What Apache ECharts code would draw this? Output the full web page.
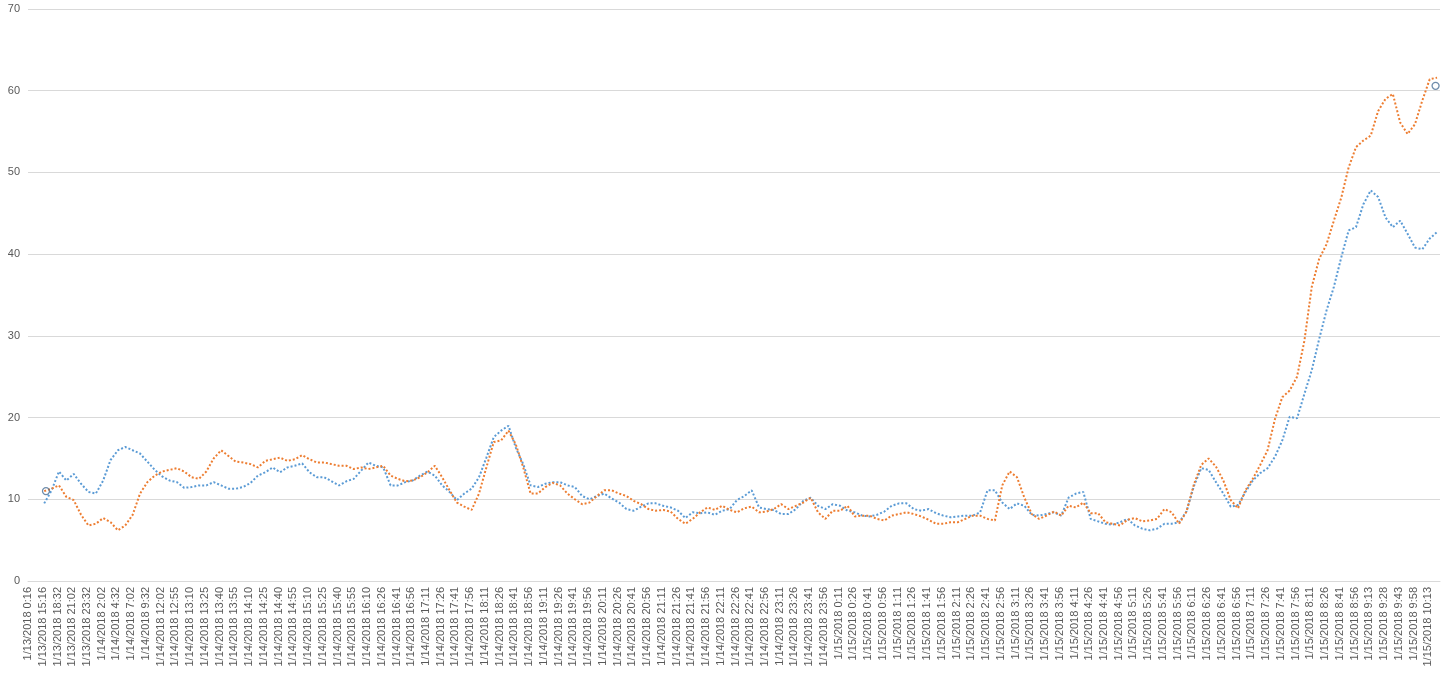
<!DOCTYPE html>
<html>
<head>
<meta charset="utf-8">
<title>Readings 1/13 - 1/15/2018</title>
<script src="https://cdn.jsdelivr.net/npm/echarts@6/dist/echarts.min.js"></script>
<style>
  html, body { margin: 0; padding: 0; background: #fff; }
  #chart { width: 1443px; height: 674px; }
</style>
</head>
<body>
<div id="chart"></div>
<script>
// tick labels, one per label slot on the x axis
const tickLabels = [
  '1/13/2018 0:16', '1/13/2018 15:16', '1/13/2018 18:32', '1/13/2018 21:02', '1/13/2018 23:32',
  '1/14/2018 2:02', '1/14/2018 4:32', '1/14/2018 7:02', '1/14/2018 9:32', '1/14/2018 12:02',
  '1/14/2018 12:55', '1/14/2018 13:10', '1/14/2018 13:25', '1/14/2018 13:40', '1/14/2018 13:55',
  '1/14/2018 14:10', '1/14/2018 14:25', '1/14/2018 14:40', '1/14/2018 14:55', '1/14/2018 15:10',
  '1/14/2018 15:25', '1/14/2018 15:40', '1/14/2018 15:55', '1/14/2018 16:10', '1/14/2018 16:26',
  '1/14/2018 16:41', '1/14/2018 16:56', '1/14/2018 17:11', '1/14/2018 17:26', '1/14/2018 17:41',
  '1/14/2018 17:56', '1/14/2018 18:11', '1/14/2018 18:26', '1/14/2018 18:41', '1/14/2018 18:56',
  '1/14/2018 19:11', '1/14/2018 19:26', '1/14/2018 19:41', '1/14/2018 19:56', '1/14/2018 20:11',
  '1/14/2018 20:26', '1/14/2018 20:41', '1/14/2018 20:56', '1/14/2018 21:11', '1/14/2018 21:26',
  '1/14/2018 21:41', '1/14/2018 21:56', '1/14/2018 22:11', '1/14/2018 22:26', '1/14/2018 22:41',
  '1/14/2018 22:56', '1/14/2018 23:11', '1/14/2018 23:26', '1/14/2018 23:41', '1/14/2018 23:56',
  '1/15/2018 0:11', '1/15/2018 0:26', '1/15/2018 0:41', '1/15/2018 0:56', '1/15/2018 1:11',
  '1/15/2018 1:26', '1/15/2018 1:41', '1/15/2018 1:56', '1/15/2018 2:11', '1/15/2018 2:26',
  '1/15/2018 2:41', '1/15/2018 2:56', '1/15/2018 3:11', '1/15/2018 3:26', '1/15/2018 3:41',
  '1/15/2018 3:56', '1/15/2018 4:11', '1/15/2018 4:26', '1/15/2018 4:41', '1/15/2018 4:56',
  '1/15/2018 5:11', '1/15/2018 5:26', '1/15/2018 5:41', '1/15/2018 5:56', '1/15/2018 6:11',
  '1/15/2018 6:26', '1/15/2018 6:41', '1/15/2018 6:56', '1/15/2018 7:11', '1/15/2018 7:26',
  '1/15/2018 7:41', '1/15/2018 7:56', '1/15/2018 8:11', '1/15/2018 8:26', '1/15/2018 8:41',
  '1/15/2018 8:56', '1/15/2018 9:13', '1/15/2018 9:28', '1/15/2018 9:43', '1/15/2018 9:58',
  '1/15/2018 10:13'
];

// readings sit every half label slot, starting just after the first label
const xStart = 1.1;
const xStep = 0.5;

const blueValues = [
  9.5, 11.1, 13.4, 12.3, 13.1, 11.9, 10.9, 10.7, 12.3, 14.8,
  16.0, 16.4, 16.0, 15.6, 14.6, 13.6, 12.8, 12.3, 12.1, 11.4,
  11.5, 11.7, 11.7, 12.1, 11.7, 11.3, 11.3, 11.5, 12.0, 12.9,
  13.3, 13.9, 13.3, 13.9, 14.1, 14.4, 13.3, 12.7, 12.7, 12.2,
  11.7, 12.2, 12.5, 13.5, 14.5, 14.1, 13.9, 11.7, 11.7, 12.1,
  12.3, 12.9, 13.4, 12.9, 11.7, 10.9, 9.9, 10.7, 11.3, 12.7,
  15.1, 17.6, 18.4, 19.0, 16.3, 14.3, 11.7, 11.5, 11.9, 12.1,
  12.1, 11.7, 11.5, 10.4, 10.0, 10.4, 10.7, 10.1, 9.6, 8.8,
  8.6, 9.1, 9.5, 9.5, 9.2, 9.0, 8.6, 7.7, 8.4, 8.3,
  8.4, 8.1, 8.6, 8.8, 9.9, 10.4, 11.1, 9.0, 8.8, 8.7,
  8.2, 8.2, 8.8, 9.8, 10.2, 9.2, 8.8, 9.4, 9.2, 8.6,
  8.4, 8.0, 7.9, 8.1, 8.5, 9.2, 9.5, 9.5, 8.8, 8.6,
  8.8, 8.3, 8.0, 7.8, 7.9, 8.0, 8.0, 8.4, 11.1, 11.1,
  9.6, 8.8, 9.5, 9.2, 8.1, 8.0, 8.2, 8.4, 8.0, 10.2,
  10.7, 10.9, 7.6, 7.3, 7.0, 6.9, 7.2, 7.6, 6.8, 6.4,
  6.2, 6.4, 7.0, 7.0, 7.2, 8.5, 11.6, 13.8, 13.6, 12.1,
  10.7, 9.1, 9.3, 10.9, 12.3, 13.2, 13.8, 15.2, 17.2, 20.1,
  19.9, 22.9, 25.8, 29.6, 33.1, 36.0, 39.6, 42.9, 43.3, 46.1,
  47.8, 47.0, 44.5, 43.3, 44.1, 42.5, 40.8, 40.6, 41.9, 42.7
];

const orangeValues = [
  11.0, 11.3, 11.7, 10.3, 9.9, 8.1, 6.8, 7.0, 7.7, 7.2,
  6.2, 6.8, 8.1, 10.7, 12.1, 12.9, 13.4, 13.6, 13.8, 13.4,
  12.7, 12.5, 13.4, 15.0, 16.0, 15.3, 14.6, 14.5, 14.3, 13.9,
  14.7, 14.9, 15.1, 14.7, 14.9, 15.4, 14.9, 14.5, 14.5, 14.3,
  14.1, 14.1, 13.7, 13.9, 13.7, 13.9, 14.1, 12.9, 12.5, 12.2,
  12.3, 12.7, 13.3, 14.1, 12.7, 11.1, 9.6, 9.1, 8.7, 10.7,
  13.9, 17.0, 17.2, 18.4, 16.7, 13.9, 10.7, 10.7, 11.5, 12.0,
  11.7, 10.7, 10.0, 9.4, 9.6, 10.4, 11.1, 11.1, 10.7, 10.4,
  9.8, 9.4, 8.8, 8.6, 8.7, 8.5, 7.6, 7.0, 7.6, 8.4,
  9.0, 8.7, 9.2, 8.7, 8.4, 8.9, 9.1, 8.4, 8.5, 8.8,
  9.4, 8.8, 9.2, 9.6, 10.2, 8.4, 7.6, 8.6, 8.6, 9.2,
  7.9, 8.0, 8.0, 7.6, 7.4, 8.0, 8.2, 8.4, 8.2, 7.9,
  7.5, 7.0, 7.0, 7.2, 7.2, 7.6, 8.0, 8.0, 7.6, 7.4,
  11.7, 13.4, 12.7, 10.2, 8.2, 7.6, 8.0, 8.5, 8.0, 9.2,
  9.0, 9.6, 8.3, 8.3, 7.2, 7.0, 6.8, 7.5, 7.7, 7.3,
  7.4, 7.6, 8.8, 8.4, 7.0, 8.5, 11.8, 14.2, 15.0, 14.0,
  12.3, 9.9, 8.9, 11.1, 12.5, 14.2, 16.0, 19.8, 22.5, 23.3,
  25.0, 29.4, 36.0, 39.4, 41.2, 44.1, 46.9, 50.6, 53.1, 53.9,
  54.5, 57.5, 59.0, 59.6, 56.1, 54.7, 55.9, 58.8, 61.4, 61.6
];

// the two circled points
const markerX = [1.22, 95.5];
const markerY = [11.0, 60.6];

function toPoints(values) {
  return values.map((v, i) => [xStart + i * xStep, v]);
}

const chart = echarts.init(document.getElementById('chart'));

chart.setOption({
  animation: false,
  backgroundColor: '#ffffff',
  grid: {
    left: 28,
    right: 3,
    top: 9,
    bottom: 93,
    containLabel: false
  },
  xAxis: {
    type: 'value',
    min: 0,
    max: 95.8,
    interval: 1,
    axisLine: {
      show: true,
      lineStyle: { color: '#d9d9d9', width: 1 }
    },
    axisTick: { show: false },
    splitLine: { show: false },
    axisLabel: {
      rotate: 90,
      margin: 6,
      color: '#595959',
      fontSize: 11,
      fontFamily: 'Liberation Sans, Arial, sans-serif',
      showMaxLabel: false,
      formatter: function (v) {
        return Number.isInteger(v) && tickLabels[v] ? tickLabels[v] : '';
      }
    }
  },
  yAxis: {
    type: 'value',
    min: 0,
    max: 70,
    interval: 10,
    axisLine: { show: false },
    axisTick: { show: false },
    splitLine: {
      lineStyle: { color: '#d9d9d9', width: 1 }
    },
    axisLabel: {
      margin: 8,
      color: '#595959',
      fontSize: 11,
      fontFamily: 'Liberation Sans, Arial, sans-serif'
    }
  },
  series: [
    {
      name: 'Series 1',
      type: 'line',
      symbol: 'none',
      data: toPoints(blueValues),
      lineStyle: { color: '#5b9bd5', width: 2, type: [2, 2] },
      z: 2
    },
    {
      name: 'Series 2',
      type: 'line',
      symbol: 'none',
      data: toPoints(orangeValues),
      lineStyle: { color: '#ed7d31', width: 2, type: [2, 2] },
      z: 3
    },
    {
      name: 'Marked',
      type: 'scatter',
      symbol: 'circle',
      symbolSize: 7,
      data: markerX.map((x, i) => [x, markerY[i]]),
      itemStyle: {
        color: 'rgba(255,255,255,0)',
        borderColor: '#4a6f96',
        borderWidth: 1.3
      },
      z: 4
    }
  ]
});
</script>
</body>
</html>
